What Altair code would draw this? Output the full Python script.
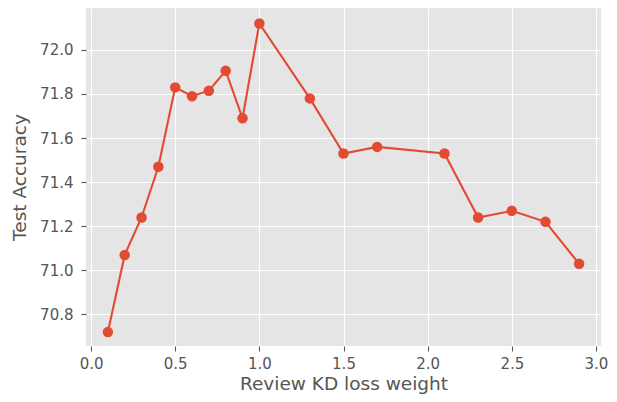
import altair as alt
import pandas as pd

weights = [0.1, 0.2, 0.3, 0.4, 0.5, 0.6, 0.7, 0.8, 0.9, 1.0, 1.3, 1.5, 1.7, 2.1, 2.3, 2.5, 2.7, 2.9]
accuracy = [70.72, 71.07, 71.24, 71.47, 71.83, 71.79, 71.815, 71.905, 71.69, 72.12,
            71.78, 71.53, 71.56, 71.53, 71.24, 71.27, 71.22, 71.03]
x_ticks = [0.0, 0.5, 1.0, 1.5, 2.0, 2.5, 3.0]
y_ticks = [70.8, 71.0, 71.2, 71.4, 71.6, 71.8, 72.0]

df = pd.DataFrame({"w": weights, "acc": accuracy})

FONT = "DejaVu Sans"
GRAY = "#555555"
RED = "#E24A33"

x = alt.X("w:Q", scale=alt.Scale(domain=[-0.03, 3.03], nice=False, zero=False),
          axis=alt.Axis(title="Review KD loss weight", values=x_ticks, format=".1f",
                        labelPadding=5, titlePadding=3))
y = alt.Y("acc:Q", scale=alt.Scale(domain=[70.657, 72.19], nice=False, zero=False),
          axis=alt.Axis(title="Test Accuracy", values=y_ticks, format=".1f",
                        labelPadding=8, titlePadding=10))

base = alt.Chart(df).encode(x=x, y=y)
line = base.mark_line(color=RED, strokeWidth=2.1)
pts = base.mark_point(filled=True, color=RED, size=110, opacity=1)

chart = (line + pts).properties(
    width=515, height=338,
    autosize=alt.AutoSizeParams(type="none"),
    padding={"left": 78, "top": 0, "right": 8, "bottom": 48},
).configure_view(
    fill="#E5E5E5", stroke=None
).configure_axis(
    grid=True, gridColor="#FFFFFF", gridWidth=1.1, domain=False,
    tickColor=GRAY, tickSize=5, tickWidth=1.1,
    labelColor=GRAY, labelFont=FONT, labelFontSize=15,
    titleColor=GRAY, titleFont=FONT, titleFontSize=18.5, titleFontWeight="normal",
)

chart.save("out.html", embed_options={"renderer": "svg", "actions": False})
